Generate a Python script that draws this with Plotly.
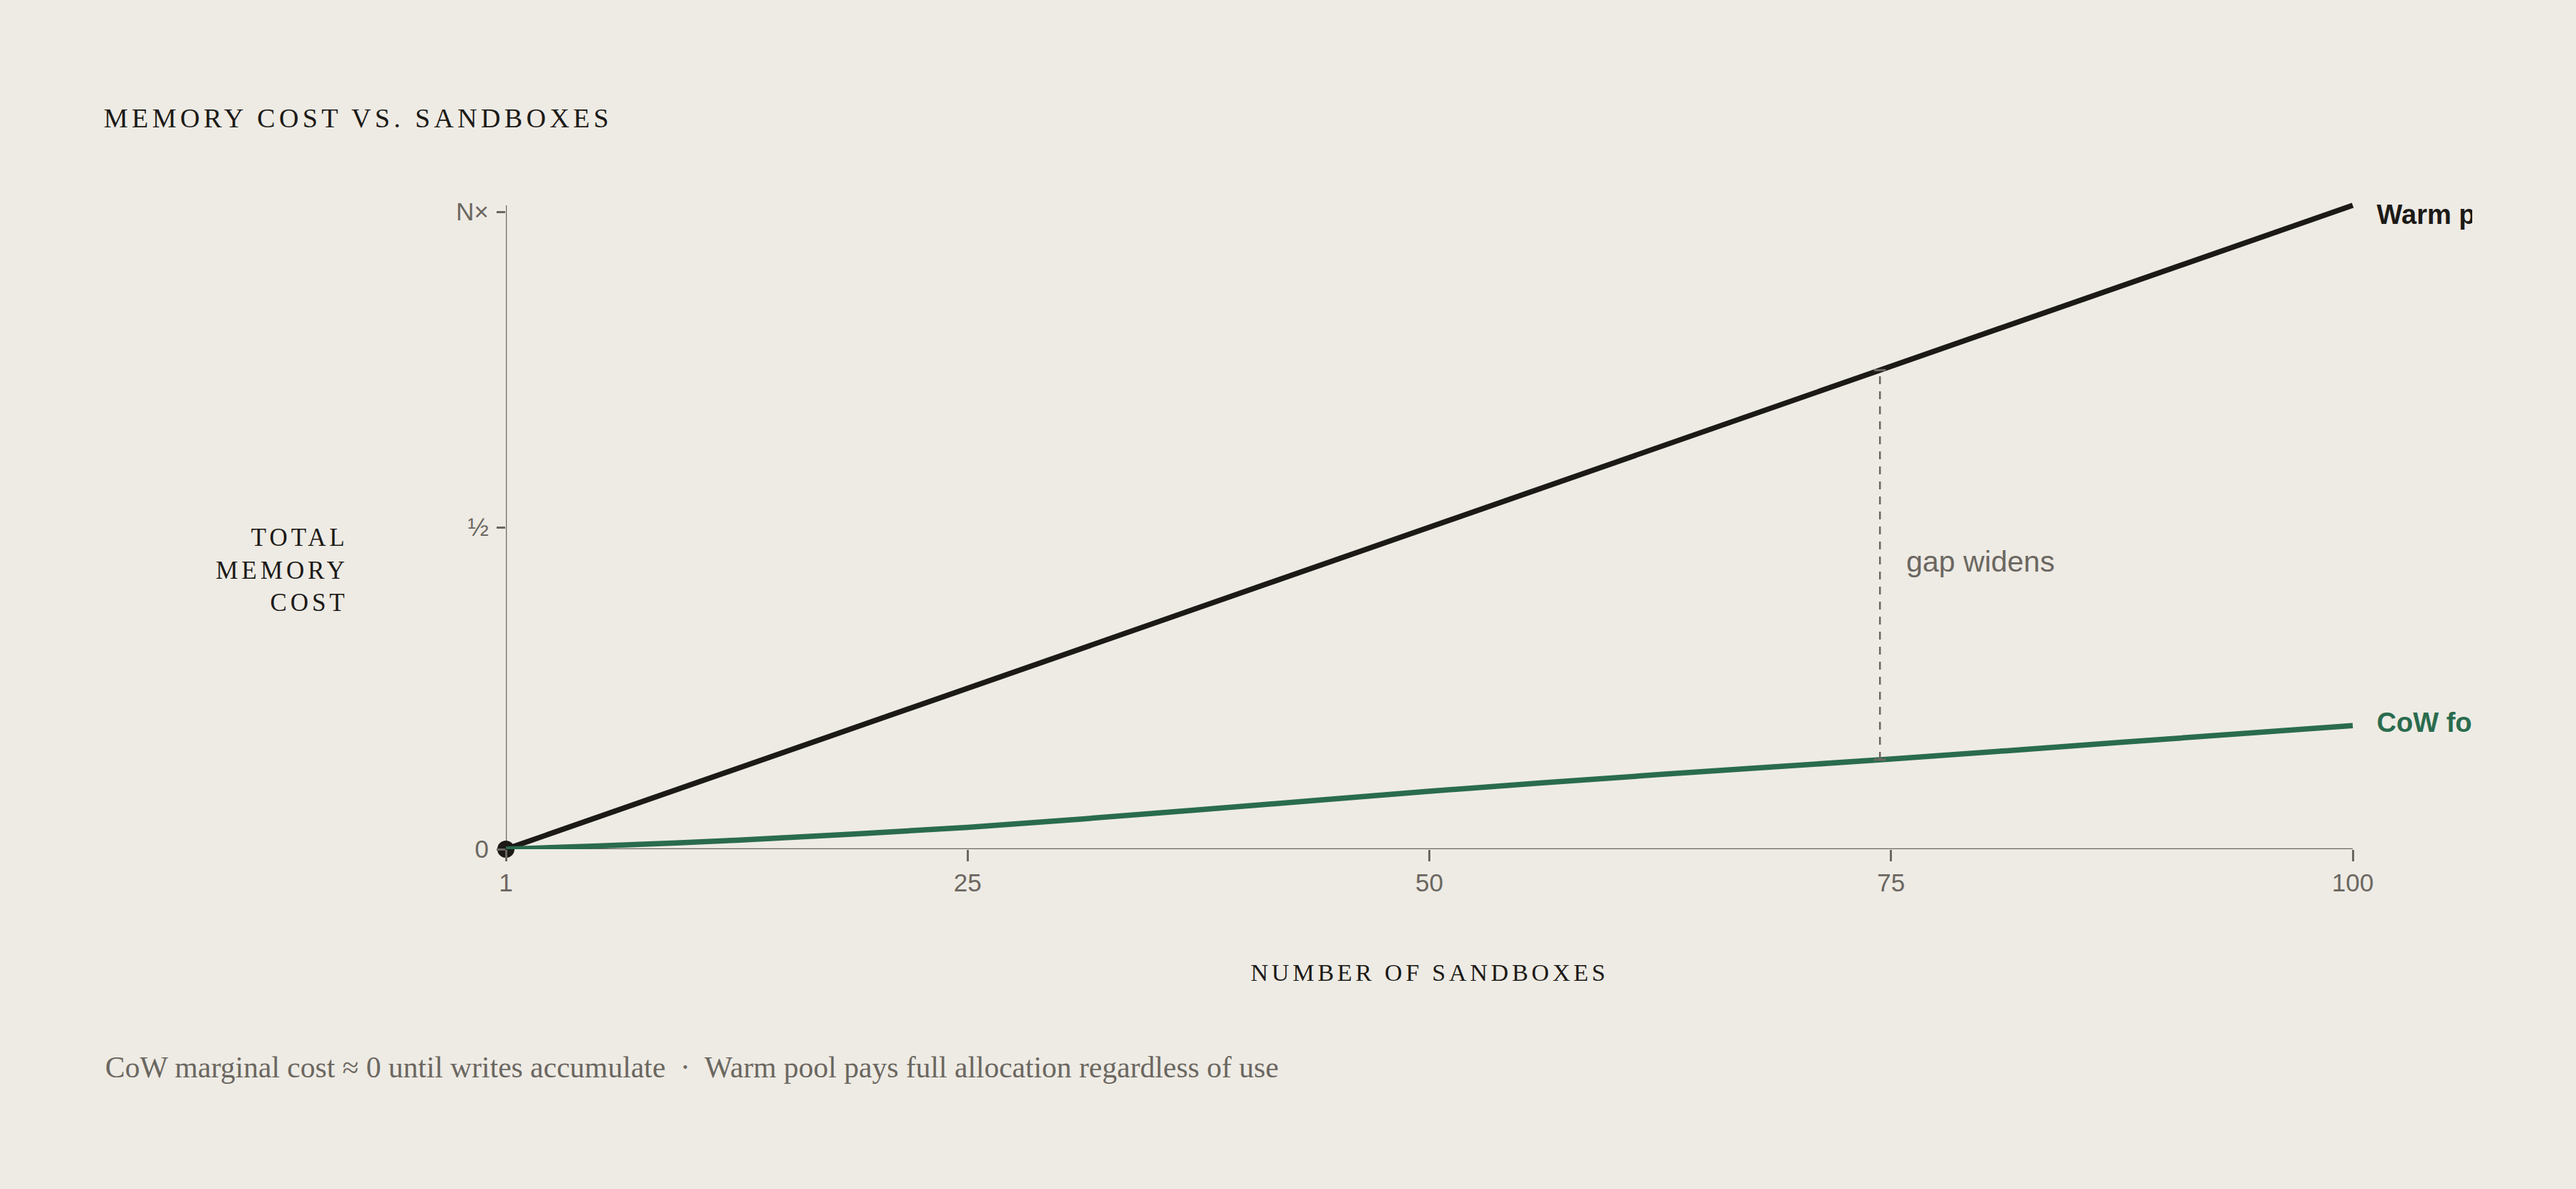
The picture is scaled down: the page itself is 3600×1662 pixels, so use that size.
import plotly.graph_objects as go

# x positions of the sandbox axis (position 0 is labelled "1")
tick_pos = [0, 25, 50, 75, 100]
tick_labels = ["1", "25", "50", "75", "100"]

# y values as a fraction of N
ytick_vals = [0, 0.5, 0.99]
ytick_labels = ["0", "½", "N×"]

warm_x = [0, 100]
warm_y = [0, 1]

cow_x = [0, 5, 12.5, 25, 37.5, 50, 62.5, 75, 87.5, 100]
cow_y = [0, 0.005, 0.014, 0.034, 0.061, 0.090, 0.116, 0.140, 0.166, 0.192]

gap_x = 74.4
gap_low = 0.139
gap_high = 0.744

series_names = ["Warm pool", "CoW fork"]
label_y = [0.982, 0.193]

BG = "#eeebe4"
INK = "#1c1a17"
GREY = "#6b6761"
GREEN = "#2a6b4e"
SERIF = "Liberation Serif, DejaVu Serif, serif"
SANS = "Liberation Sans, Arial, sans-serif"

fig = go.Figure()

# origin dot
fig.add_trace(go.Scatter(x=[warm_x[0]], y=[warm_y[0]], mode="markers",
                         marker=dict(size=24, color=INK), cliponaxis=False,
                         hoverinfo="skip", showlegend=False))

fig.add_trace(go.Scatter(x=warm_x, y=warm_y, mode="lines",
                         line=dict(color=INK, width=7.5), cliponaxis=False,
                         hoverinfo="skip", showlegend=False))

fig.add_trace(go.Scatter(x=cow_x, y=cow_y, mode="lines",
                         line=dict(color=GREEN, width=7.5, shape="spline", smoothing=0.8),
                         cliponaxis=False, hoverinfo="skip", showlegend=False))

# gap marker
fig.add_trace(go.Scatter(x=[gap_x, gap_x], y=[gap_low, gap_high], mode="lines+markers",
                         line=dict(color=GREY, width=2.5, dash="11px,10px"),
                         marker=dict(symbol="line-ew", size=12, line=dict(color=GREY, width=3)),
                         cliponaxis=False, hoverinfo="skip", showlegend=False))

# end labels, clipped at the right edge of the plot area
fig.add_trace(go.Scatter(x=[101.3, 101.3], y=label_y, mode="text",
                         text=series_names, textposition="middle right",
                         textfont=dict(family=SANS, size=38, weight=700, color=[INK, GREEN]),
                         cliponaxis=True, hoverinfo="skip", showlegend=False))

fig.add_shape(type="line", x0=0, x1=100, y0=0, y1=0, xref="x", yref="y",
              line=dict(color=GREY, width=2.5), layer="below")
fig.add_shape(type="line", x0=0, x1=0, y0=0, y1=1, xref="x", yref="y",
              line=dict(color=GREY, width=2.5), layer="below")

fig.add_annotation(x=gap_x, y=0.447, xref="x", yref="y", text="gap widens",
                   xanchor="left", yanchor="middle", xshift=35, showarrow=False,
                   font=dict(family=SANS, size=41, color=GREY))

fig.add_annotation(x=0, y=0.433, xref="x", yref="y", text="TOTAL<br>MEMORY<br>COST",
                   xanchor="right", yanchor="middle", align="right", xshift=-218,
                   showarrow=False, font=dict(family=SERIF, size=35, color=INK))

fig.add_annotation(x=50, y=-0.1838, xref="x", yref="paper", text="NUMBER OF SANDBOXES",
                   xanchor="center", yanchor="middle", showarrow=False,
                   font=dict(family=SERIF, size=34, color=INK))

fig.add_annotation(x=-0.2045, y=-0.3259, xref="paper", yref="paper",
                   text="CoW marginal cost ≈ 0 until writes accumulate  ·  Warm pool pays full allocation regardless of use",
                   xanchor="left", yanchor="middle", showarrow=False,
                   font=dict(family=SERIF, size=41.5, color=GREY))

fig.update_layout(
    width=3600, height=1662, autosize=False,
    paper_bgcolor=BG, plot_bgcolor=BG,
    margin=dict(l=707, r=145, t=251, b=475),
    title=dict(text="MEMORY COST VS. SANDBOXES", x=145 / 3600, xanchor="left",
               y=1 - 165 / 1662, yanchor="middle", xref="container", yref="container",
               font=dict(family=SERIF, size=38, color=INK)),
    xaxis=dict(range=[0, 106.47], tickvals=tick_pos, ticktext=tick_labels,
               showgrid=False, zeroline=False, showline=False,
               ticks="outside", ticklen=16, tickwidth=2.5, tickcolor=GREY,
               ticklabelstandoff=0,
               tickfont=dict(family=SANS, size=35, color=GREY)),
    yaxis=dict(range=[0, 1.04], tickvals=ytick_vals, ticktext=ytick_labels,
               showgrid=False, zeroline=False, showline=False,
               ticks="outside", ticklen=12, tickwidth=2.5, tickcolor=GREY,
               ticklabelstandoff=4,
               tickfont=dict(family=SANS, size=35, color=GREY)),
    hovermode=False,
)

# page margin off, letter spacing for the spaced serif caps labels
spacing_js = """
document.body.style.margin = '0';
document.body.style.background = '#eeebe4';
var gd = document.getElementById('{plot_id}');
function spaceCaps() {
  gd.querySelectorAll('text').forEach(function (t) {
    var fam = t.style.fontFamily || '';
    var txt = t.textContent.trim();
    if (fam.indexOf('Serif') >= 0 && /^[A-Z .]+$/.test(txt)) {
      t.style.letterSpacing = '0.14em';
    }
  });
}
spaceCaps();
gd.on('plotly_afterplot', spaceCaps);
"""

fig.write_html("out.html", config={"displayModeBar": False}, post_script=spacing_js)
